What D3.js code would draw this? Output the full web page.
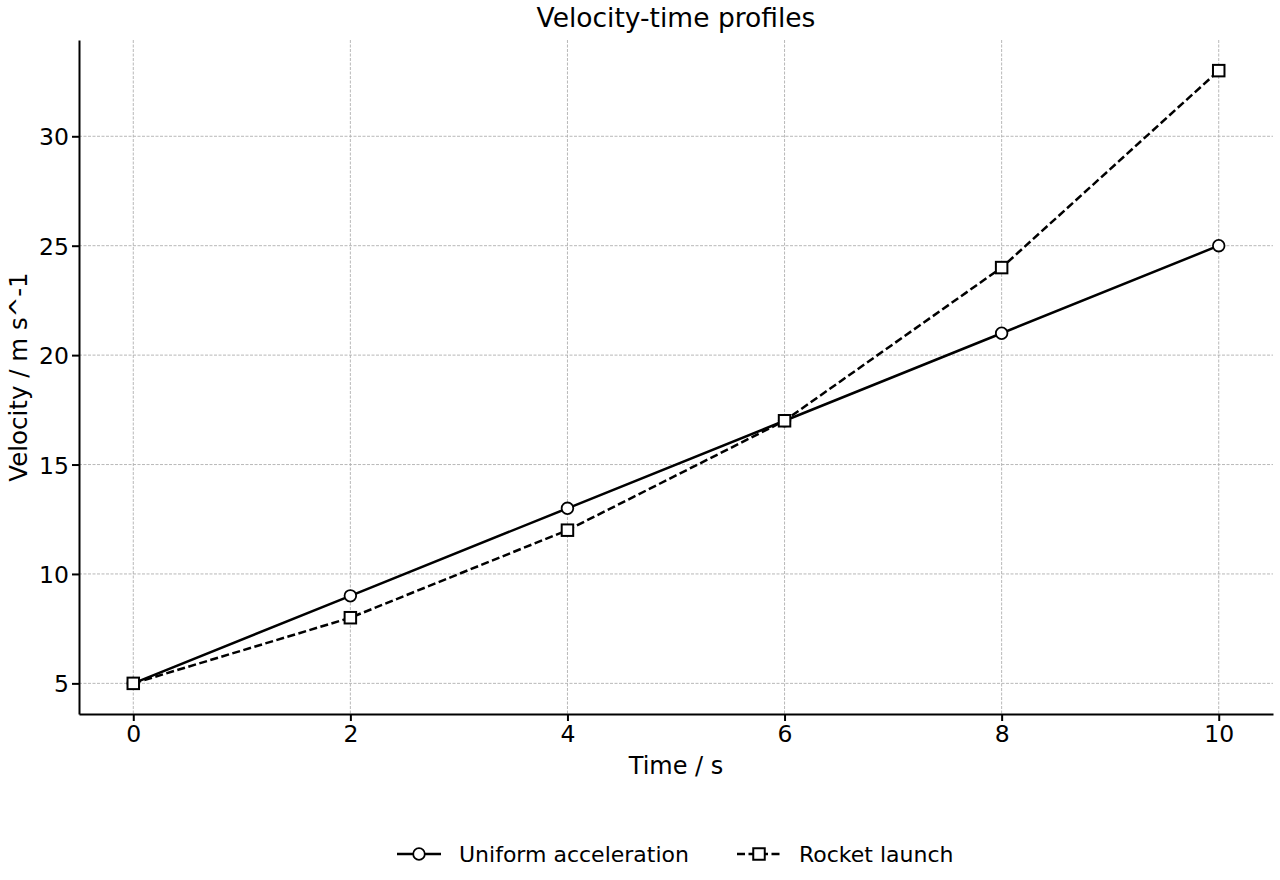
<!DOCTYPE html>
<html>
<head>
<meta charset="utf-8">
<script src="https://cdn.jsdelivr.net/npm/d3@7"></script>
<style>
  body { margin: 0; background: #fff; }
  svg text { font-family: "DejaVu Sans", sans-serif; fill: #000; }
</style>
</head>
<body>
<div id="app"></div>
<script>
const times = [0, 2, 4, 6, 8, 10];
const uniform = [5, 9, 13, 17, 21, 25];
const rocket = [5, 8, 12, 17, 24, 33];
const xTicks = [0, 2, 4, 6, 8, 10];
const yTicks = [5, 10, 15, 20, 25, 30];

const width = 1280;
const height = 880;
const margin = { left: 79, right: 7, top: 40, bottom: 166 };

const svg = d3.select('#app').append('svg')
  .attr('width', width)
  .attr('height', height);

const x = d3.scaleLinear().domain([-0.5, 10.5]).range([margin.left, width - margin.right]);
const y = d3.scaleLinear().domain([3.6, 34.4]).range([height - margin.bottom, margin.top]);

// grid
const grid = svg.append('g');
grid.selectAll('.gx').data(xTicks).enter().append('line')
  .attr('x1', d => x(d)).attr('x2', d => x(d))
  .attr('y1', margin.top).attr('y2', height - margin.bottom)
  .attr('stroke', '#b0b0b0').attr('stroke-width', 0.9).attr('stroke-dasharray', '3,1.5');
grid.selectAll('.gy').data(yTicks).enter().append('line')
  .attr('y1', d => y(d)).attr('y2', d => y(d))
  .attr('x1', margin.left).attr('x2', width - margin.right)
  .attr('stroke', '#b0b0b0').attr('stroke-width', 0.9).attr('stroke-dasharray', '3,1.5');

// axes
const xAxis = svg.append('g')
  .attr('transform', `translate(0,${height - margin.bottom})`)
  .call(d3.axisBottom(x).tickValues(xTicks).tickSizeInner(7).tickSizeOuter(0).tickPadding(4));
const yAxis = svg.append('g')
  .attr('transform', `translate(${margin.left},0)`)
  .call(d3.axisLeft(y).tickValues(yTicks).tickSizeInner(7).tickSizeOuter(0).tickPadding(3));

[xAxis, yAxis].forEach(a => {
  a.attr('font-size', null).attr('font-family', null);
  a.select('.domain').attr('stroke', '#000').attr('stroke-width', 2);
  a.selectAll('.tick line').attr('stroke', '#000').attr('stroke-width', 2);
  a.selectAll('.tick text').style('font-size', '23.5px');
});
yAxis.selectAll('.tick text').attr('dy', '0.36em');

// titles
svg.append('text')
  .attr('x', (margin.left + width - margin.right) / 2)
  .attr('y', 27)
  .attr('text-anchor', 'middle')
  .style('font-size', '26.5px')
  .text('Velocity-time profiles');

svg.append('text')
  .attr('x', (margin.left + width - margin.right) / 2)
  .attr('y', 774)
  .attr('text-anchor', 'middle')
  .style('font-size', '24px')
  .text('Time / s');

svg.append('text')
  .attr('transform', `translate(27,${(margin.top + height - margin.bottom) / 2}) rotate(-90)`)
  .attr('text-anchor', 'middle')
  .style('font-size', '24.5px')
  .text('Velocity / m s^-1');

// lines
const line = vals => d3.line().x((d, i) => x(times[i])).y(d => y(d))(vals);

svg.append('path')
  .attr('d', line(uniform))
  .attr('fill', 'none').attr('stroke', '#000').attr('stroke-width', 2.5);

svg.append('path')
  .attr('d', line(rocket))
  .attr('fill', 'none').attr('stroke', '#000').attr('stroke-width', 2.5)
  .attr('stroke-dasharray', '8,3.5');

svg.append('g').selectAll('circle').data(uniform).enter().append('circle')
  .attr('cx', (d, i) => x(times[i]))
  .attr('cy', d => y(d))
  .attr('r', 5.8)
  .attr('fill', '#fff').attr('stroke', '#000').attr('stroke-width', 1.8);

const sq = 11.5;
svg.append('g').selectAll('rect').data(rocket).enter().append('rect')
  .attr('x', (d, i) => x(times[i]) - sq / 2)
  .attr('y', d => y(d) - sq / 2)
  .attr('width', sq).attr('height', sq)
  .attr('fill', '#fff').attr('stroke', '#000').attr('stroke-width', 2);

// legend
const legend = svg.append('g').attr('transform', 'translate(0,854)');
legend.append('line').attr('x1', 397).attr('x2', 441).attr('y1', 0).attr('y2', 0)
  .attr('stroke', '#000').attr('stroke-width', 2.5);
legend.append('circle').attr('cx', 419).attr('cy', 0).attr('r', 5.8)
  .attr('fill', '#fff').attr('stroke', '#000').attr('stroke-width', 1.8);
legend.append('text').attr('x', 459).attr('y', 8).style('font-size', '22px').text('Uniform acceleration');

legend.append('line').attr('x1', 737).attr('x2', 781).attr('y1', 0).attr('y2', 0)
  .attr('stroke', '#000').attr('stroke-width', 2.5).attr('stroke-dasharray', '8,3.5');
legend.append('rect').attr('x', 759 - sq / 2).attr('y', -sq / 2).attr('width', sq).attr('height', sq)
  .attr('fill', '#fff').attr('stroke', '#000').attr('stroke-width', 2);
legend.append('text').attr('x', 799).attr('y', 8).style('font-size', '22px').text('Rocket launch');
</script>
</body>
</html>
